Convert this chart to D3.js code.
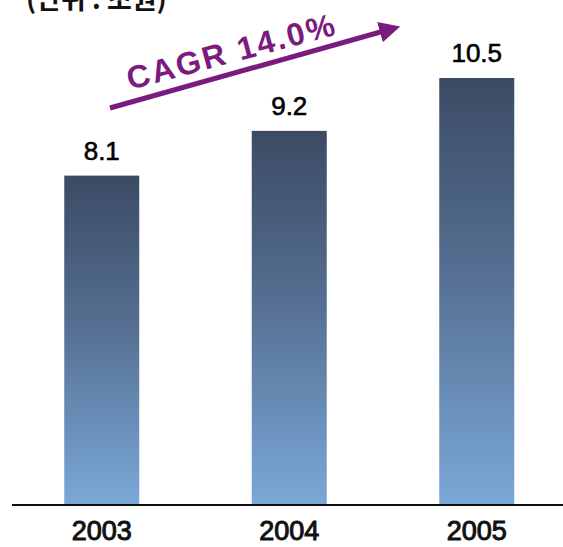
<!DOCTYPE html>
<html><head><meta charset="utf-8">
<script src="https://cdn.jsdelivr.net/npm/d3@7"></script>
<style>html,body{margin:0;padding:0;background:#fff;}svg{display:block;}</style>
</head><body>
<script>
const years = ["2003", "2004", "2005"];
const values = [8.1, 9.2, 10.5];
const valueLabels = ["8.1", "9.2", "10.5"];
const unitLabel = "(단위 : 조원)";
const cagrLabel = "CAGR 14.0%";

const W = 563, H = 547;
const svg = d3.select("body").append("svg").attr("width", W).attr("height", H);

const defs = svg.append("defs");
const grad = defs.append("linearGradient").attr("id", "barGrad")
  .attr("x1", 0).attr("y1", 0).attr("x2", 0).attr("y2", 1);
grad.append("stop").attr("offset", "0%").attr("stop-color", "#3b4b64");
grad.append("stop").attr("offset", "45%").attr("stop-color", "#556e91");
grad.append("stop").attr("offset", "100%").attr("stop-color", "#7aa8d8");

const mk = defs.append("marker").attr("id", "arrowHead")
  .attr("viewBox", "0 0 10 10").attr("refX", 2).attr("refY", 5)
  .attr("markerWidth", 4.2).attr("markerHeight", 4.2).attr("orient", "auto")
  .attr("markerUnits", "strokeWidth");
mk.append("path").attr("d", "M0,0 L10,5 L0,10 Z").attr("fill", "#7b1b80");

const x = d3.scaleBand().domain(years).range([8, 570.5]).paddingInner(0.6).paddingOuter(0.3);
const baseY = 505;
const y = d3.scaleLinear().domain([0, 10.5]).range([baseY, 78]);

// unit caption (cut off at top, as in the reference)
svg.append("text").attr("x", 26).attr("y", 9)
  .attr("font-family", "'Noto Sans CJK KR', sans-serif").attr("font-size", 27)
  .attr("font-weight", "bold").attr("fill", "#111").text(unitLabel);

// bars
svg.selectAll("rect.bar").data(values).enter().append("rect").attr("class", "bar")
  .attr("x", (d, i) => x(years[i])).attr("width", x.bandwidth())
  .attr("y", d => y(d)).attr("height", d => baseY - y(d))
  .attr("fill", "url(#barGrad)");

// value labels
svg.selectAll("text.val").data(values).enter().append("text").attr("class", "val")
  .attr("x", (d, i) => x(years[i]) + x.bandwidth() / 2)
  .attr("y", d => y(d) - 16)
  .attr("text-anchor", "middle")
  .attr("font-family", "'Liberation Sans', Arial, sans-serif").attr("font-size", 26)
  .attr("fill", "#000").attr("stroke", "#000").attr("stroke-width", 0.6)
  .text((d, i) => valueLabels[i]);

// axis line
svg.append("line").attr("x1", 12).attr("x2", W).attr("y1", baseY).attr("y2", baseY)
  .attr("stroke", "#111").attr("stroke-width", 2);

// year labels
svg.selectAll("text.year").data(years).enter().append("text").attr("class", "year")
  .attr("x", d => x(d) + x.bandwidth() / 2).attr("y", 540)
  .attr("text-anchor", "middle")
  .attr("font-family", "'Liberation Sans', Arial, sans-serif").attr("font-size", 27)
  .attr("fill", "#111").attr("stroke", "#111").attr("stroke-width", 1)
  .text(d => d);

// CAGR arrow
svg.append("line").attr("x1", 110).attr("y1", 108).attr("x2", 384).attr("y2", 31)
  .attr("stroke", "#7b1b80").attr("stroke-width", 5).attr("marker-end", "url(#arrowHead)");

svg.append("text")
  .attr("transform", "translate(130,90) rotate(-15)")
  .attr("font-family", "'Liberation Sans', Arial, sans-serif").attr("font-size", 32)
  .attr("font-weight", "bold").attr("fill", "#7b1b80")
  .attr("textLength", 214).attr("lengthAdjust", "spacing")
  .text(cagrLabel);
</script>
</body></html>
